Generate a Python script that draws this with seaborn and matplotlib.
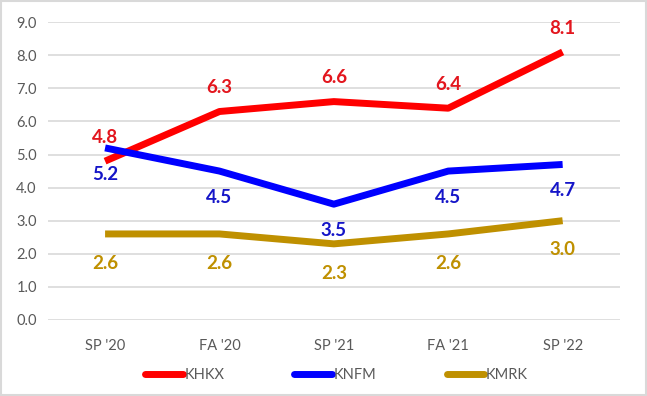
import pandas as pd
import seaborn as sns
from matplotlib import pyplot as plt
from matplotlib.patches import Rectangle

# data
terms = ["SP '20", "FA '20", "SP '21", "FA '21", "SP '22"]
khkx = [4.8, 6.3, 6.6, 6.4, 8.1]
knfm = [5.2, 4.5, 3.5, 4.5, 4.7]
kmrk = [2.6, 2.6, 2.3, 2.6, 3.0]

series = ["KHKX", "KNFM", "KMRK"]
line_colors = {"KHKX": "#FF0000", "KNFM": "#0000FF", "KMRK": "#BF9000"}
label_colors = {"KHKX": "#E3161E", "KNFM": "#1515C8", "KMRK": "#BF9000"}
label_offset = {"KHKX": 17, "KNFM": -19, "KMRK": -21}

df = pd.DataFrame({"term": terms * 3,
                   "value": khkx + knfm + kmrk,
                   "series": ["KHKX"] * 5 + ["KNFM"] * 5 + ["KMRK"] * 5})
df["x"] = df["term"].map({t: i for i, t in enumerate(terms)})

sns.set_style("white")
plt.rcParams["font.family"] = ["Lato", "DejaVu Sans"]

fig = plt.figure(figsize=(6.47, 3.96), dpi=100)
ax = fig.add_axes([0.074, 0.192, 0.884, 0.752])

sns.lineplot(data=df, x="x", y="value", hue="series", hue_order=series,
             palette=line_colors, linewidth=5, ax=ax, sort=False,
             solid_capstyle="butt", solid_joinstyle="round")

# data labels
for _, r in df.iterrows():
    ax.annotate(f"{r['value']:.1f}", (r["x"], r["value"]),
                xytext=(0, label_offset[r["series"]]), textcoords="offset points",
                ha="center", va="center", fontsize=13.5, fontweight="bold",
                color=label_colors[r["series"]])

ax.set_xlim(-0.5, 4.5)
ax.set_ylim(0, 9)
ax.set_yticks(range(10))
ax.set_yticklabels([f"{v:.1f}" for v in range(10)])
ax.set_xticks(range(5))
ax.set_xticklabels(terms)
ax.tick_params(axis="both", length=0, labelsize=10.5, labelcolor="#595959")
ax.tick_params(axis="x", pad=14)
ax.tick_params(axis="y", pad=8)
ax.grid(axis="y", color="#D9D9D9", linewidth=1.2)
ax.set_axisbelow(True)
for s in ax.spines.values():
    s.set_visible(False)
ax.set_xlabel("")
ax.set_ylabel("")

# legend at bottom
handles, labels = ax.get_legend_handles_labels()
leg = ax.legend(handles, labels, loc="center", bbox_to_anchor=(0.52, 0.053),
                bbox_transform=fig.transFigure, ncol=3, frameon=False,
                fontsize=10.5, labelcolor="#595959", handlelength=2.6,
                handletextpad=0.1, columnspacing=4.8)
for h in leg.get_lines():
    h.set_solid_capstyle("round")

# outer border
fig.patches.append(Rectangle((0.002, 0.003), 0.996, 0.994, transform=fig.transFigure,
                             fill=False, edgecolor="#D9D9D9", linewidth=1.5))

fig.savefig("out.png", dpi=100)
